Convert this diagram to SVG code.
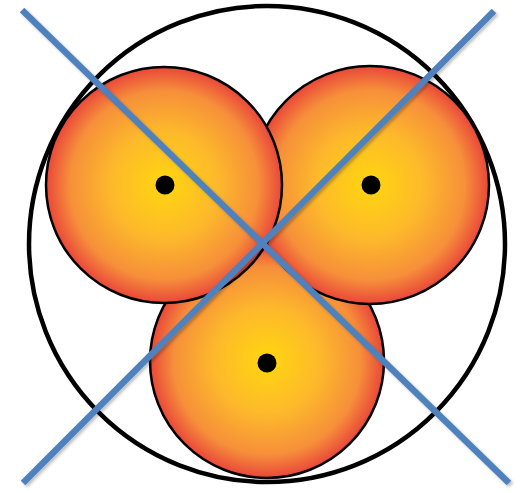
<svg xmlns="http://www.w3.org/2000/svg" width="520" height="493" viewBox="0 0 520 493">
<defs>
<radialGradient id="orange" cx="50%" cy="50%" r="50%">
<stop offset="0" stop-color="#FFD60F"/>
<stop offset="0.45" stop-color="#FDB92B"/>
<stop offset="0.8" stop-color="#F68F3A"/>
<stop offset="1" stop-color="#E9473A"/>
</radialGradient>
<filter id="sh" x="-10%" y="-10%" width="120%" height="120%">
<feGaussianBlur in="SourceAlpha" stdDeviation="1.5"/>
<feOffset dx="1.5" dy="2" result="b"/>
<feComponentTransfer><feFuncA type="linear" slope="0.25"/></feComponentTransfer>
<feMerge><feMergeNode/><feMergeNode in="SourceGraphic"/></feMerge>
</filter>
</defs>
<style>
.ball{fill:url(#orange);stroke:#000;stroke-width:2.5}
.dot{fill:#000}
.line{stroke:#4F81BD;stroke-width:6.5;stroke-linecap:butt;fill:none}
</style>
<g id="outer"><circle cx="267" cy="244" r="238" fill="#fff" stroke="#000" stroke-width="4.5"/></g>
<g id="ball-bottom"><circle class="ball" cx="267" cy="361" r="117"/><circle class="dot" cx="267" cy="363" r="9.5"/></g>
<g id="ball-right"><circle class="ball" cx="370" cy="185" r="119"/><circle class="dot" cx="371" cy="185" r="9.5"/></g>
<g id="ball-left"><circle class="ball" cx="164" cy="185" r="118"/><circle class="dot" cx="165" cy="185" r="9.5"/></g>
<g id="connectors" filter="url(#sh)">
<line class="line" x1="22" y1="10" x2="509" y2="483"/>
<line class="line" x1="494" y1="11" x2="23" y2="483"/>
</g>
</svg>
